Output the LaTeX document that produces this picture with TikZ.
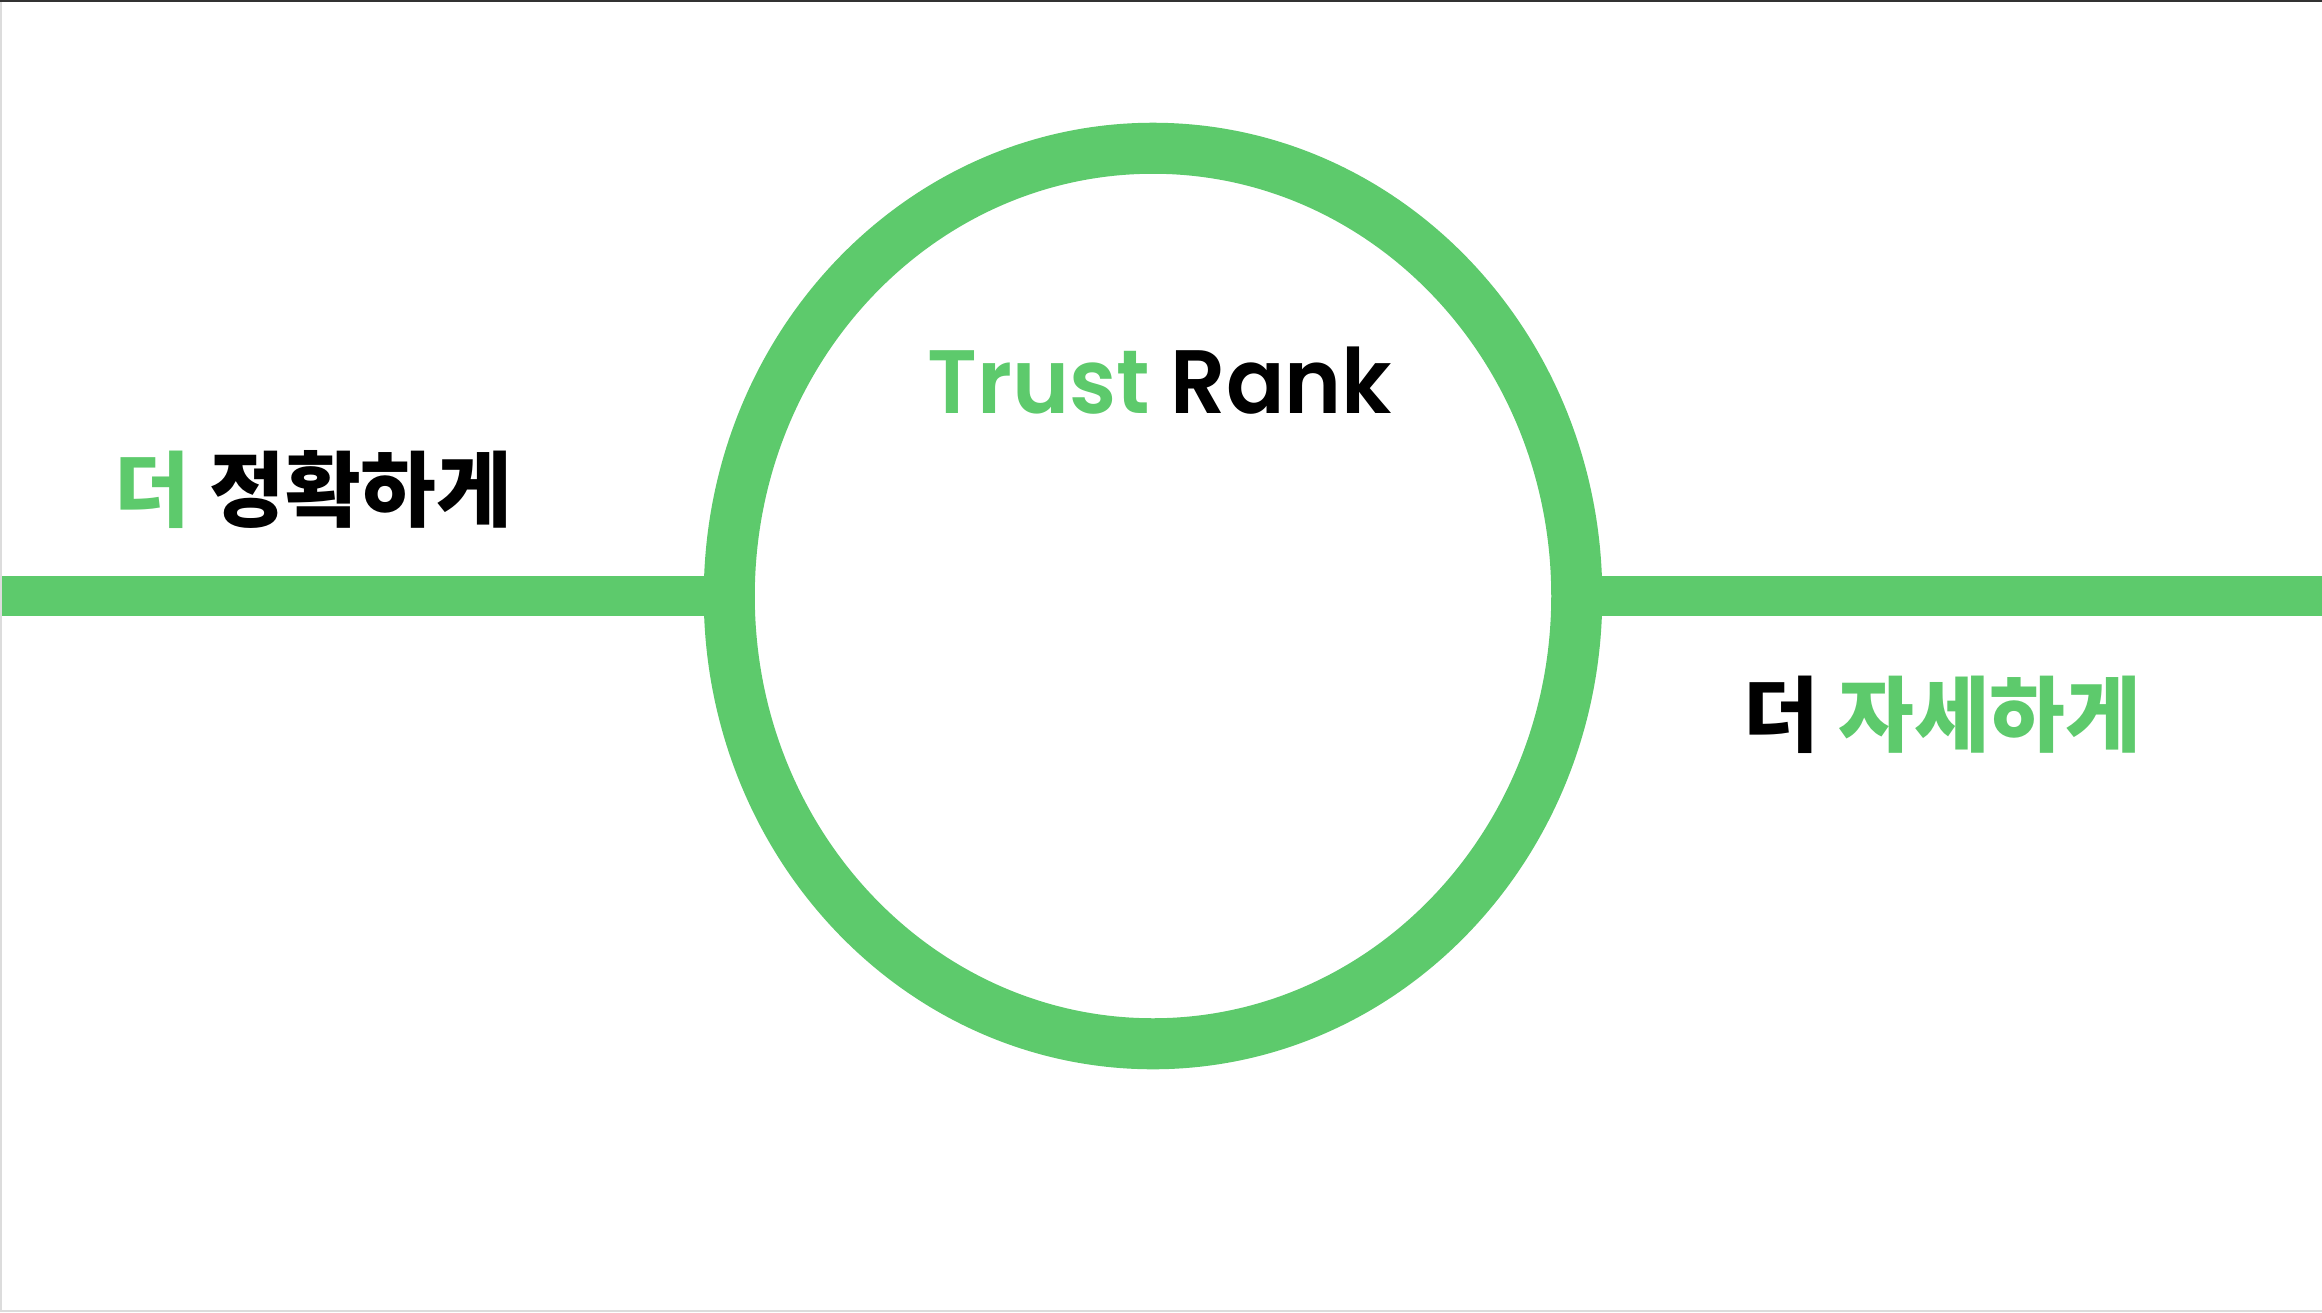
\documentclass[tikz,border=0pt]{standalone}
\usepackage{fontspec}
\usepackage{xcolor}
\usepackage{tikz}
\usetikzlibrary{shapes.geometric, positioning, calc}
\newfontfamily\krfont{Noto Sans CJK KR}
\newfontfamily\enfont{Poppins SemiBold}[FakeStretch=0.96]
\definecolor{trgreen}{RGB}{93, 202, 108}
\definecolor{trdark}{RGB}{51, 51, 51}
\definecolor{trgray}{RGB}{220, 220, 220}
\tikzset{
	ringnode/.style={ellipse, draw=trgreen, line width=0.51cm, inner sep=0pt, outer sep=0pt, minimum width=8.47cm, minimum height=8.95cm},
	barline/.style={trgreen, line width=0.40cm, line cap=butt},
	krlabel/.style={anchor=base, inner sep=0pt, font=\krfont\bfseries\fontsize{23.4}{26}\selectfont},
	titlelabel/.style={anchor=base, inner sep=0pt, font=\enfont\fontsize{25.6}{30}\selectfont}
}
\begin{document}
\begin{tikzpicture}[x=0.01cm, y=-0.01cm]
			\useasboundingbox (0,0) rectangle (2322,1312);
			% Frame
			\fill[white] (0,0) rectangle (2322,1312);
			\fill[trdark] (0,0) rectangle (2322,2);
			\fill[trgray] (0,2) rectangle (2,1312);
			\fill[trgray] (0,1310) rectangle (2322,1312);

			% Ring and bars
			\node[ringnode] (ring) at (1153,596) {};
			\coordinate (lend) at (2,596);
			\coordinate (rend) at (2322,596);
			\draw[barline] (lend) -- (ring.west);
			\draw[barline] (ring.east) -- (rend);

			% Labels
			\node[titlelabel] (title) at (1160,413) {\textcolor{trgreen}{Trust} Rank};
			\node[krlabel] (exact) at (313.5,520) {\textcolor{trgreen}{더} 정확하게};
			\node[krlabel] (detail) at (1942.5,745) {더 \textcolor{trgreen}{자세하게}};

		\end{tikzpicture}
\end{document}
